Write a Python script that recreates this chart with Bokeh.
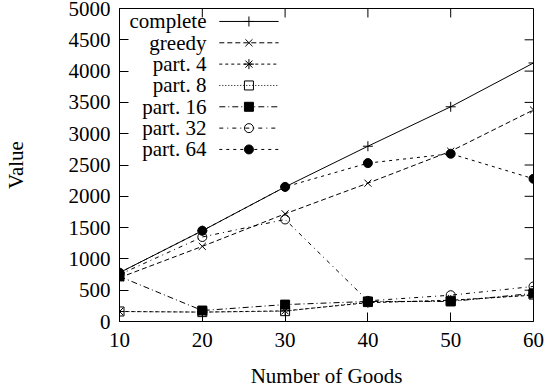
from bokeh.plotting import figure
from bokeh.models import Range1d, FixedTicker
from bokeh.core.properties import value
from bokeh.embed import file_html
from bokeh.resources import INLINE

# Number of goods on the x axis
goods = [10, 20, 30, 40, 50, 60]

# Value reached by each allocation method
complete = [780, 1450, 2150, 2800, 3430, 4130]
greedy = [700, 1200, 1720, 2210, 2720, 3380]
part4 = [160, 150, 170, 300, 340, 420]
part8 = [160, 150, 165, 310, 330, 430]
part16 = [720, 175, 270, 320, 320, 450]
part32 = [750, 1350, 1630, 330, 420, 560]
part64 = [780, 1450, 2150, 2530, 2680, 2280]

series_names = ["complete", "greedy", "part. 4", "part. 8", "part. 16", "part. 32", "part. 64"]
series_values = [complete, greedy, part4, part8, part16, part32, part64]

x_ticks = [10, 20, 30, 40, 50, 60]
y_ticks = [0, 500, 1000, 1500, 2000, 2500, 3000, 3500, 4000, 4500, 5000]

# line dash, marker, marker size, marker fill for each series
styles = [
    ("solid", "cross", 10, None),
    ("5 3", "x", 10, None),
    ("3 3", "asterisk", 10, None),
    ("1 2", "square", 9, None),
    ("6 3 1 3", "square", 9, "black"),
    ("4 4 1 4", "circle", 9, None),
    ("3 4", "circle", 9, "black"),
]

FONT = "Liberation Serif"
FS = "21px"
W, H = 547, 390
LEFT, RIGHT, TOP, BOTTOM = 114, 14, 8, 68
X0, X1, Y0, Y1 = 10, 60, 0, 5000
TICK = 9

p = figure(
    width=W, height=H,
    x_range=Range1d(X0, X1), y_range=Range1d(Y0, Y1),
    output_backend="svg", toolbar_location=None,
    min_border_left=LEFT, min_border_right=RIGHT,
    min_border_top=TOP, min_border_bottom=BOTTOM,
    x_axis_label="Number of Goods", y_axis_label="Value",
)
p.grid.visible = False
p.outline_line_color = "black"
p.outline_line_width = 1
p.background_fill_color = "white"
p.border_fill_color = "white"

for ax, ticks in ((p.xaxis[0], x_ticks), (p.yaxis[0], y_ticks)):
    ax.ticker = FixedTicker(ticks=ticks)
    ax.axis_line_color = "black"
    ax.major_tick_line_color = "black"
    ax.major_tick_in = TICK
    ax.major_tick_out = 0
    ax.minor_tick_line_color = None
    ax.major_label_text_font = FONT
    ax.major_label_text_font_size = FS
    ax.major_label_text_color = "black"
    ax.axis_label_text_font = FONT
    ax.axis_label_text_font_style = "normal"
    ax.axis_label_text_font_size = FS
    ax.axis_label_text_color = "black"

p.xaxis[0].major_label_standoff = 11
p.xaxis[0].axis_label_standoff = 14
p.yaxis[0].major_label_standoff = 9
p.yaxis[0].axis_label_standoff = 38

frame_w = W - LEFT - RIGHT
frame_h = H - TOP - BOTTOM


def fx(px):
    # horizontal offset in pixels from the frame's left edge -> data x
    return X0 + px * (X1 - X0) / frame_w


def fy(px):
    # vertical offset in pixels from the frame's top edge -> data y
    return Y1 - px * (Y1 - Y0) / frame_h


# mirrored inward ticks on the top and right edges
tick_dx = fx(TICK) - X0
tick_dy = Y1 - fy(TICK)
p.segment(x0=x_ticks, y0=[Y1] * len(x_ticks), x1=x_ticks,
          y1=[Y1 - tick_dy] * len(x_ticks), line_color="black", line_width=1)
p.segment(x0=[X1] * len(y_ticks), y0=y_ticks, x1=[X1 - tick_dx] * len(y_ticks),
          y1=y_ticks, line_color="black", line_width=1)

# data series
for vals, (dash, marker, size, fill) in zip(series_values, styles):
    p.line(goods, vals, line_color="black", line_width=1, line_dash=dash)
    p.scatter(goods, vals, marker=marker, size=size, line_color="black",
              line_width=1, fill_color=fill)

# key in the upper left corner: label, sample line and marker
row0, row_step = 13, 21.4
label_x = fx(88)
for i, (name, (dash, marker, size, fill)) in enumerate(zip(series_names, styles)):
    yy = fy(row0 + i * row_step)
    p.text(x=[label_x], y=[yy], text=[name], text_align="right",
           text_baseline="middle", text_font=value(FONT),
           text_font_size=FS, text_color="black")
    p.line([fx(101), fx(161)], [yy, yy], line_color="black", line_width=1,
           line_dash=dash)
    p.scatter([fx(131)], [yy], marker=marker, size=size, line_color="black",
              line_width=1, fill_color=fill)

open("out.html", "w").write(file_html(p, INLINE))
